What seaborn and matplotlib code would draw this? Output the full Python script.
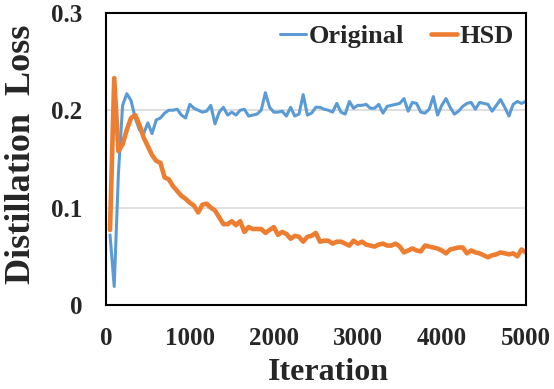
import matplotlib
matplotlib.use("Agg")
import matplotlib.pyplot as plt
import seaborn as sns
import pandas as pd
from matplotlib.lines import Line2D

iterations = list(range(50, 5001, 50))

original = [
    0.072, 0.019, 0.135, 0.205, 0.217, 0.210, 0.192, 0.180, 0.176, 0.187,
    0.176, 0.190, 0.192, 0.197, 0.200, 0.200, 0.201, 0.195, 0.192, 0.206,
    0.202, 0.200, 0.198, 0.199, 0.205, 0.186, 0.198, 0.203, 0.195, 0.198,
    0.195, 0.200, 0.201, 0.194, 0.195, 0.196, 0.200, 0.218, 0.203, 0.198,
    0.198, 0.199, 0.194, 0.203, 0.194, 0.196, 0.216, 0.195, 0.197, 0.203,
    0.203, 0.201, 0.200, 0.198, 0.207, 0.198, 0.196, 0.209, 0.202, 0.205,
    0.205, 0.206, 0.202, 0.202, 0.206, 0.197, 0.204, 0.205, 0.206, 0.207,
    0.212, 0.199, 0.208, 0.207, 0.198, 0.197, 0.201, 0.214, 0.195, 0.205,
    0.212, 0.203, 0.196, 0.199, 0.204, 0.207, 0.208, 0.201, 0.208, 0.207,
    0.206, 0.199, 0.205, 0.211, 0.203, 0.194, 0.206, 0.209, 0.207, 0.209,
]

hsd = [
    0.077, 0.233, 0.158, 0.165, 0.180, 0.192, 0.195, 0.185, 0.172, 0.163,
    0.154, 0.148, 0.146, 0.131, 0.129, 0.122, 0.117, 0.112, 0.109, 0.105,
    0.102, 0.095, 0.103, 0.104, 0.100, 0.097, 0.090, 0.083, 0.083, 0.086,
    0.082, 0.086, 0.075, 0.080, 0.078, 0.078, 0.078, 0.074, 0.077, 0.080,
    0.072, 0.075, 0.073, 0.068, 0.071, 0.070, 0.065, 0.070, 0.071, 0.074,
    0.065, 0.066, 0.066, 0.063, 0.065, 0.065, 0.063, 0.061, 0.066, 0.063,
    0.065, 0.062, 0.061, 0.060, 0.062, 0.063, 0.061, 0.061, 0.063, 0.060,
    0.054, 0.056, 0.058, 0.056, 0.055, 0.061, 0.060, 0.059, 0.058, 0.056,
    0.053, 0.057, 0.058, 0.059, 0.059, 0.053, 0.056, 0.054, 0.053, 0.051,
    0.049, 0.051, 0.052, 0.054, 0.053, 0.052, 0.053, 0.050, 0.057, 0.054,
]

x_ticks = [0, 1000, 2000, 3000, 4000, 5000]
y_ticks = [0, 0.1, 0.2, 0.3]
y_tick_labels = ["0", "0.1", "0.2", "0.3"]
series_names = ["Original", "HSD"]

sns.set_theme(style="white")
plt.rcParams['font.family'] = ['Liberation Serif', 'DejaVu Serif']
plt.rcParams['font.weight'] = 'bold'

df = pd.DataFrame({
    "Iteration": iterations * 2,
    "Loss": original + hsd,
    "Method": [series_names[0]] * len(original) + [series_names[1]] * len(hsd),
})

fig = plt.figure(figsize=(5.54, 3.89), dpi=100)
ax = fig.add_axes([0.191, 0.216, 0.758, 0.751])

colors = {"Original": "#5B9BD5", "HSD": "#ED7D31"}
widths = {"Original": 2.2, "HSD": 3.3}
sns.lineplot(data=df, x="Iteration", y="Loss", hue="Method", palette=colors,
             hue_order=series_names, ax=ax, legend=False)
for line, name in zip(ax.get_lines(), series_names):
    line.set_linewidth(widths[name])
    line.set_solid_joinstyle('round')

ax.set_xlim(0, 5000)
ax.set_ylim(0, 0.3)
ax.set_xticks(x_ticks)
ax.set_xticklabels([str(t) for t in x_ticks])
ax.set_yticks(y_ticks)
ax.set_yticklabels(y_tick_labels)
ax.tick_params(axis='x', length=0, labelsize=18, pad=16)
ax.tick_params(axis='y', length=0, labelsize=18, pad=17)
for lab in ax.get_xticklabels() + ax.get_yticklabels():
    lab.set_fontweight('bold')

ax.yaxis.grid(True, color="#D9D9D9", linewidth=1.2)
ax.xaxis.grid(False)
for s in ax.spines.values():
    s.set_color("black")
    s.set_linewidth(1.5)

ax.set_xlabel("Iteration", fontsize=23, fontweight='bold')
ax.set_ylabel("Distillation  Loss", fontsize=26, fontweight='bold')
ax.xaxis.set_label_coords(0.53, -0.18)
ax.yaxis.set_label_coords(-0.162, 0.515)

handles = [Line2D([], [], color=colors[n], linewidth=widths[n]) for n in series_names]
ax.legend(handles, series_names, loc="upper right", ncol=2, frameon=False,
          prop={'weight': 'bold', 'size': 19}, handlelength=1.0, handletextpad=0.1,
          columnspacing=1.0, borderaxespad=0.05, bbox_to_anchor=(1.0, 1.0))

fig.savefig("out.png", dpi=100)
